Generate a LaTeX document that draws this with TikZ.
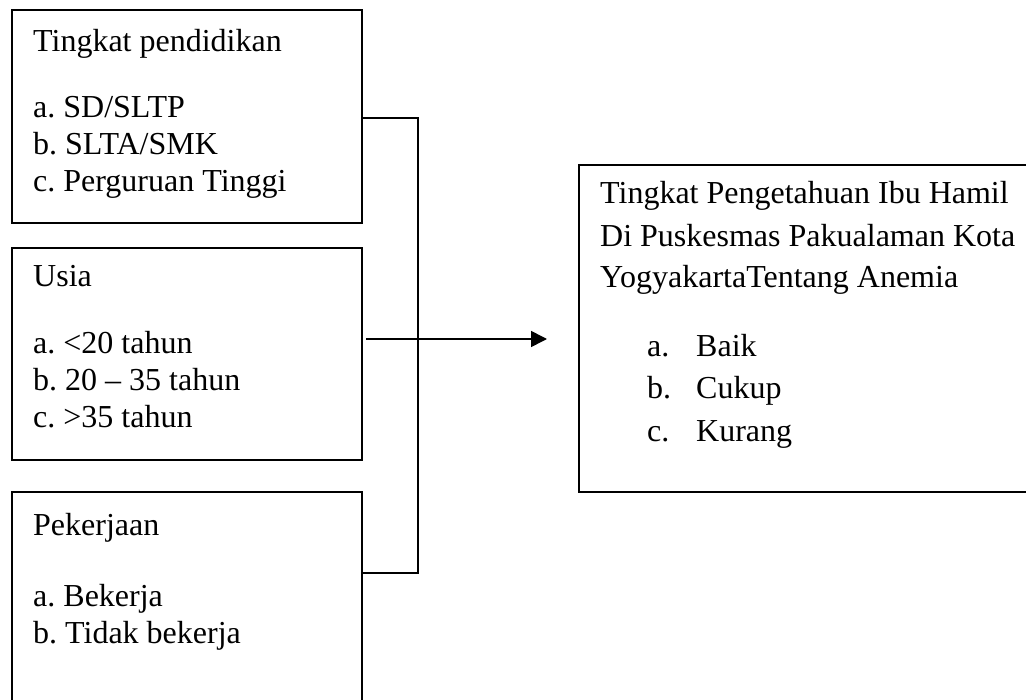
\documentclass[tikz,border=0pt]{standalone}
\usepackage{fontspec}
\setmainfont{Liberation Serif}
\usetikzlibrary{arrows.meta}
\frenchspacing
\begin{document}
\begin{tikzpicture}[x=1pt,y=-1pt,
  boxnode/.style={draw=black,line width=2pt,rectangle,inner sep=0pt,anchor=north west},
  txt/.style={inner sep=0pt,anchor=base west,font=\fontsize{32}{37}\selectfont},
  conn/.style={draw=black,line width=1.6pt},
  arr/.style={conn,-{Triangle[length=16pt,width=16pt]}}]
\useasboundingbox (0,0) rectangle (1026,700);
\begin{scope}
\clip (0,0) rectangle (1026,700);
% boxes
\node[boxnode,minimum width=350pt,minimum height=213pt] (b1) at (11,9) {};
\node[boxnode,minimum width=350pt,minimum height=212pt] (b2) at (11,247) {};
\node[boxnode,minimum width=350pt,minimum height=240pt] (b3) at (11,491) {};
\node[boxnode,minimum width=470pt,minimum height=327pt] (rb) at (578,164) {};
\end{scope}
% texts box 1
\node[txt] (t1h) at (33,52) {Tingkat pendidikan};
\node[txt] (t1a) at (33,118) {a. SD/SLTP};
\node[txt] (t1b) at (33,155) {b. SLTA/SMK};
\node[txt] (t1c) at (33,192) {c. Perguruan Tinggi};
% texts box 2
\node[txt] (t2h) at (33,287) {Usia};
\node[txt] (t2a) at (33,354) {a. <20 tahun};
\node[txt] (t2b) at (33,391) {b. 20 – 35 tahun};
\node[txt] (t2c) at (33,428) {c. >35 tahun};
% texts box 3
\node[txt] (t3h) at (33,536) {Pekerjaan};
\node[txt] (t3a) at (33,606) {a. Bekerja};
\node[txt] (t3b) at (33,643) {b. Tidak bekerja};
% right box texts
\node[txt] (r1) at (600,204) {Tingkat Pengetahuan Ibu Hamil};
\node[txt] (r2) at (600,247) {Di Puskesmas Pakualaman Kota};
\node[txt] (r3) at (600,288) {YogyakartaTentang Anemia};
\node[txt] (ra1) at (647,357) {a.};
\node[txt] (ra2) at (696,357) {Baik};
\node[txt] (rb1) at (647,399) {b.};
\node[txt] (rb2) at (696,399) {Cukup};
\node[txt] (rc1) at (647,442) {c.};
\node[txt] (rc2) at (696,442) {Kurang};
% connectors
\coordinate (j1) at (418,118);
\coordinate (j2) at (418,573);
\coordinate (ay) at (0,339);
\draw[conn,line join=miter] (b1.east |- j1) -- (j1) -- (j2) -- (b3.east |- j2);
\draw[arr,shorten <=3pt,shorten >=31pt] (b2.east |- ay) -- (rb.west |- ay);
\end{tikzpicture}
\end{document}
